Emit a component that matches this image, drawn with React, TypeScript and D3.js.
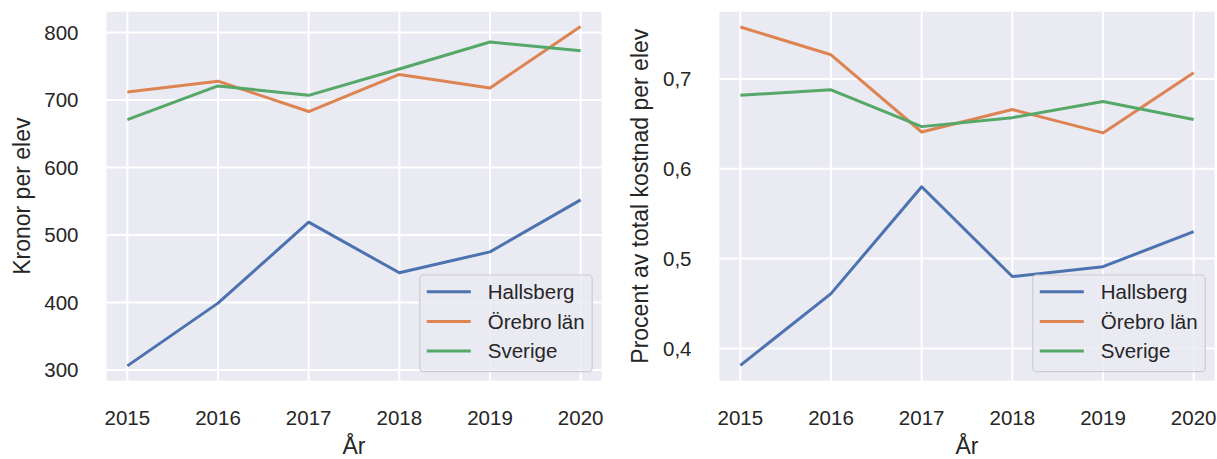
import * as d3 from "d3";

const years = [2015, 2016, 2017, 2018, 2019, 2020];
const seriesNames = ["Hallsberg", "Örebro län", "Sverige"];
const seriesColors = ["#4C72B0", "#DD8452", "#55A868"];

// kronor per elev
const kronorHallsberg = [306, 399, 519, 444, 475, 552];
const kronorOrebro = [712, 728, 683, 738, 718, 809];
const kronorSverige = [671, 721, 707, 746, 786, 773];
const kronorTicks = [300, 400, 500, 600, 700, 800];

// andel av total kostnad per elev
const andelHallsberg = [0.381, 0.461, 0.58, 0.48, 0.491, 0.53];
const andelOrebro = [0.758, 0.727, 0.641, 0.666, 0.64, 0.707];
const andelSverige = [0.682, 0.688, 0.647, 0.657, 0.675, 0.655];
const andelTicks = [0.4, 0.5, 0.6, 0.7];

const FONT = "'Liberation Sans', Arial, sans-serif";
const TEXT = "#262626";
const TICK_SIZE = 20.5;
const LABEL_SIZE = 23;

function Panel({
  left,
  right,
  series,
  yDomain,
  yTicks,
  yFormat,
  yLabel,
  yLabelOffset,
}: {
  left: number;
  right: number;
  series: number[][];
  yDomain: [number, number];
  yTicks: number[];
  yFormat: (v: number) => string;
  yLabel: string;
  yLabelOffset: number;
}) {
  const top = 11.7;
  const bottom = 380.7;
  const x = d3.scaleLinear().domain([2014.77, 2020.23]).range([left, right]);
  const y = d3.scaleLinear().domain(yDomain).range([bottom, top]);
  const line = d3
    .line<number>()
    .x((_, i) => x(years[i]))
    .y((d) => y(d));

  const legW = 172.4;
  const legH = 96.7;
  const legX = right - 9.3 - legW;
  const legY = 275;

  return (
    <g>
      <rect x={left} y={top} width={right - left} height={bottom - top} fill="#EAEAF2" />
      {years.map((yr) => (
        <line key={yr} x1={x(yr)} x2={x(yr)} y1={top} y2={bottom} stroke="#fff" strokeWidth={2} />
      ))}
      {yTicks.map((t) => (
        <line key={t} x1={left} x2={right} y1={y(t)} y2={y(t)} stroke="#fff" strokeWidth={2} />
      ))}
      {series.map((s, i) => (
        <path
          key={i}
          d={line(s) || ""}
          fill="none"
          stroke={seriesColors[i]}
          strokeWidth={3}
          strokeLinejoin="round"
        />
      ))}
      {years.map((yr) => (
        <text key={yr} x={x(yr)} y={424.5} textAnchor="middle" fontSize={TICK_SIZE} fill={TEXT}>
          {yr}
        </text>
      ))}
      {yTicks.map((t) => (
        <text key={t} x={left - 28} y={y(t) + 7.3} textAnchor="end" fontSize={TICK_SIZE} fill={TEXT}>
          {yFormat(t)}
        </text>
      ))}
      <text x={(left + right) / 2} y={453.5} textAnchor="middle" fontSize={LABEL_SIZE} fill={TEXT}>
        År
      </text>
      <text
        transform={`translate(${left - yLabelOffset},${(top + bottom) / 2}) rotate(-90)`}
        textAnchor="middle"
        dominantBaseline="central"
        fontSize={LABEL_SIZE}
        fill={TEXT}
      >
        {yLabel}
      </text>
      <rect
        x={legX}
        y={legY}
        width={legW}
        height={legH}
        rx={4}
        fill="#EAEAF2"
        fillOpacity={0.8}
        stroke="#cccccc"
        strokeWidth={1.2}
      />
      {seriesNames.map((n, i) => {
        const cy = legY + 16.7 + i * 29.7;
        return (
          <g key={n}>
            <line x1={legX + 7} x2={legX + 51} y1={cy} y2={cy} stroke={seriesColors[i]} strokeWidth={3} />
            <text x={legX + 68} y={cy + 7.3} fontSize={TICK_SIZE} fill={TEXT}>
              {n}
            </text>
          </g>
        );
      })}
    </g>
  );
}

export default function App() {
  const commaFmt = (v: number) => d3.format(".1f")(v).replace(".", ",");
  return (
    <div style={{ position: "fixed", left: 0, top: 0 }}>
      <svg width={1217} height={459} style={{ display: "block", background: "#fff", fontFamily: FONT }}>
        <Panel
          left={106.5}
          right={601.5}
          series={[kronorHallsberg, kronorOrebro, kronorSverige]}
          yDomain={[284, 831]}
          yTicks={kronorTicks}
          yFormat={(v) => String(v)}
          yLabel="Kronor per elev"
          yLabelOffset={84.5}
        />
        <Panel
          left={719.5}
          right={1214.5}
          series={[andelHallsberg, andelOrebro, andelSverige]}
          yDomain={[0.364, 0.775]}
          yTicks={andelTicks}
          yFormat={commaFmt}
          yLabel="Procent av total kostnad per elev"
          yLabelOffset={80}
        />
      </svg>
    </div>
  );
}
